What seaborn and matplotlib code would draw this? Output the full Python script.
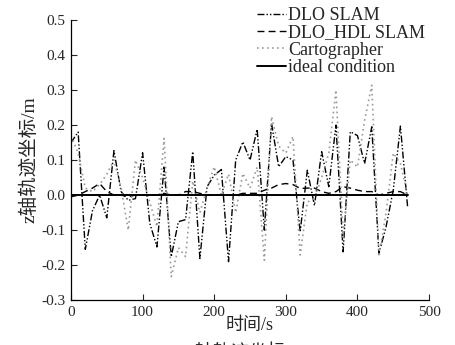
import numpy as np
import pandas as pd
import seaborn as sns
import matplotlib
matplotlib.use("Agg")
import matplotlib.pyplot as plt

# time axis (s)
time_s = list(range(0, 480, 10))

dlo_slam = [0.15, 0.18, -0.155, -0.045, 0.0, -0.065, 0.127, 0.01, -0.015, -0.01,
            0.121, -0.08, -0.148, 0.08, -0.176, -0.076, -0.07, 0.124, -0.181, 0.024,
            0.057, 0.073, -0.19, 0.10, 0.152, 0.10, 0.188, -0.10, 0.205, 0.081,
            0.11, 0.10, -0.105, 0.071, -0.03, 0.124, 0.024, 0.20, -0.162, 0.181,
            0.17, 0.09, 0.195, -0.167, -0.09, 0.014, 0.197, -0.033]

dlo_hdl_slam = [-0.005, 0.0, 0.01, 0.02, 0.033, 0.01, 0.0, 0.0, -0.005, 0.0,
                0.0, 0.0, 0.0, 0.005, 0.0, 0.0, 0.01, 0.01, 0.005, 0.0,
                0.0, 0.0, 0.0, 0.0, 0.005, 0.005, 0.005, 0.014, 0.02, 0.03,
                0.033, 0.03, 0.019, 0.02, 0.02, 0.01, 0.005, 0.01, 0.024, 0.02,
                0.014, 0.01, 0.01, 0.0, 0.005, 0.01, 0.01, 0.0]

cartographer = [0.17, 0.12, 0.02, 0.01, 0.03, 0.06, 0.10, 0.02, -0.10, 0.10,
                0.05, -0.02, -0.09, 0.162, -0.233, -0.15, -0.176, 0.04, -0.05, 0.02,
                0.081, 0.0, 0.06, -0.05, 0.062, 0.02, 0.08, -0.186, 0.224, 0.14,
                0.12, 0.167, -0.171, -0.02, -0.01, 0.05, 0.12, 0.30, -0.12, 0.10,
                0.08, 0.214, 0.314, -0.176, -0.05, 0.12, 0.09, 0.0]

ideal = [0.0] * len(time_s)

series_names = ["DLO SLAM", "DLO_HDL SLAM", "Cartographer", "ideal condition"]
y_ticks = [-0.3, -0.2, -0.1, 0.0, 0.1, 0.2, 0.3, 0.4, 0.5]
x_ticks = [0, 100, 200, 300, 400, 500]

sns.set_style("ticks")
plt.rcParams['font.family'] = ['Liberation Serif', 'Noto Sans CJK SC']
plt.rcParams['axes.unicode_minus'] = False
plt.rcParams['xtick.direction'] = 'in'
plt.rcParams['ytick.direction'] = 'in'

fig = plt.figure(figsize=(4.55, 3.45), dpi=100)
ax = fig.add_axes([0.156, 0.130, 0.787, 0.812])

styles = {
    "DLO SLAM": dict(color="black", linestyle=(0, (5, 1.5, 1, 1.5, 1, 1.5)), linewidth=1.0),
    "DLO_HDL SLAM": dict(color="black", linestyle=(0, (5, 3)), linewidth=1.0),
    "Cartographer": dict(color="#9a9a9a", linestyle=(0, (1, 2)), linewidth=1.2),
    "ideal condition": dict(color="black", linestyle="-", linewidth=1.4),
}
values = [dlo_slam, dlo_hdl_slam, cartographer, ideal]

for name, vals in zip(series_names, values):
    df = pd.DataFrame({"t": time_s, "z": vals})
    sns.lineplot(data=df, x="t", y="z", ax=ax, label=name, **styles[name])

ax.set_xlim(0, 500)
ax.set_ylim(-0.3, 0.5)
ax.set_xticks(x_ticks)
ax.set_yticks(y_ticks)
ax.set_yticklabels([f"{v:.1f}" for v in y_ticks])
ax.tick_params(labelsize=11, length=4, width=0.8, pad=4)
sns.despine(ax=ax)
for s in ["left", "bottom"]:
    ax.spines[s].set_linewidth(0.9)
    ax.spines[s].set_color("black")

ax.set_xlabel("时间/s", fontsize=13, labelpad=-1)
ax.set_ylabel("z轴轨迹坐标/m", fontsize=14, labelpad=2)

ax.legend(loc="upper right", bbox_to_anchor=(1.01, 1.072), frameon=False,
          fontsize=13, handlelength=1.6, handletextpad=0.15, labelspacing=0.02,
          borderaxespad=0)

fig.text(0.52, 0.004, "z轴轨迹坐标", ha="center", va="top", fontsize=13)

fig.savefig("out.png", dpi=100)
